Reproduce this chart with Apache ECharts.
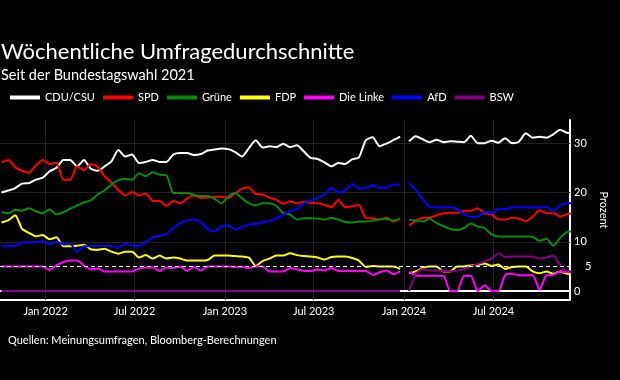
<!DOCTYPE html>
<html><head><meta charset="utf-8">
<script src="https://cdn.jsdelivr.net/npm/echarts@6/dist/echarts.min.js"></script>
<style>html,body{margin:0;padding:0;background:#000;}#c{width:620px;height:380px;}</style>
</head><body><div id="c"></div>
<script>
// ---- data ----
const partyNames = ['CDU/CSU', 'SPD', 'Grüne', 'FDP', 'Die Linke', 'AfD', 'BSW'];
const partyColors = ['#ffffff', '#ff0000', '#0a8a0a', '#ffff00', '#ff00ff', '#0000ff', '#800080'];

// bi-weekly poll averages; period A: 2021-10-03 .. 2023-12-24, gap, period B: 2024-01-11 .. 2024-12-12
const periodAStart = '2021-10-03';
const periodBStart = '2024-01-11';
const stepDays = 14;

const cduA = [20.0,20.4,20.9,21.8,21.9,22.6,23.0,24.3,25.0,26.6,26.6,25.3,26.6,24.8,24.4,25.3,26.3,28.6,27.3,27.7,26.0,26.2,26.6,26.2,26.2,27.7,28.0,28.0,27.6,27.8,28.5,28.7,28.9,28.8,28.2,27.3,29.0,30.6,29.1,29.4,29.2,29.9,29.2,29.6,28.3,27.0,26.8,26.1,25.3,26.0,25.8,26.7,27.1,30.6,31.2,29.4,29.9,30.6,31.3];
const cduB = [30.4,31.4,30.8,30.2,30.7,30.2,30.4,30.3,30.2,31.5,30.0,30.0,30.5,30.1,31.0,30.0,30.3,32.0,31.1,31.3,31.1,31.8,32.7,32.1,32.0];

const spdA = [26.1,26.6,25.1,24.4,24.0,25.5,26.6,25.8,26.0,22.6,22.6,25.3,24.5,25.8,25.2,23.3,22.0,20.5,19.4,20.1,19.4,19.8,18.3,18.3,17.3,18.3,17.8,18.8,19.4,18.9,19.0,19.1,19.2,18.9,19.8,20.8,21.0,19.7,19.6,18.9,18.5,17.7,18.2,17.8,18.1,17.9,17.8,17.5,17.0,18.5,17.0,17.2,17.5,14.8,14.8,14.5,14.9,14.1,14.8];
const spdB = [13.3,14.3,14.9,14.9,15.4,15.8,15.9,15.9,16.3,16.3,16.8,15.8,15.6,14.5,14.5,14.9,14.7,14.2,15.1,16.4,15.8,15.8,15.1,15.6,15.8];

const grueneA = [16.0,15.8,16.5,16.3,16.8,16.2,15.8,16.6,15.6,16.0,16.7,17.4,18.0,18.4,19.6,20.4,21.6,22.5,22.8,22.6,23.9,23.3,24.1,23.6,23.5,19.9,19.9,19.9,19.5,19.3,19.3,18.7,17.8,19.2,19.9,18.8,17.8,17.4,17.8,17.8,17.3,15.8,15.5,14.5,14.8,14.8,14.7,14.5,14.9,14.5,14.0,13.9,14.1,14.1,14.3,14.5,14.7,14.3,14.6];
const grueneB = [14.5,14.3,14.1,14.7,13.8,13.2,12.6,12.4,12.8,13.7,13.1,12.8,11.5,11.1,11.1,11.1,11.1,11.1,11.0,10.2,10.6,9.2,10.8,12.0,12.1];

const fdpA = [13.9,14.4,15.4,12.6,11.8,11.1,11.4,10.5,10.9,9.1,9.1,9.2,9.4,8.5,8.4,8.6,8.0,7.6,8.0,8.0,6.8,7.3,6.6,7.2,6.6,6.8,6.6,6.2,6.2,6.2,6.3,7.2,7.2,7.2,7.1,7.0,6.8,5.1,6.1,6.6,7.2,7.2,7.7,7.3,7.1,7.0,6.8,6.4,6.9,7.0,7.0,6.7,6.2,4.9,5.1,5.0,5.0,5.0,4.5];
const fdpB = [3.6,4.0,4.7,5.0,5.0,4.0,4.0,5.0,5.0,5.2,5.3,5.6,5.1,5.4,4.5,4.9,5.0,5.0,4.0,3.6,4.0,3.5,4.0,3.5,3.4];

const linkeA = [5.0,5.0,5.0,5.0,5.0,5.0,5.0,4.3,5.2,5.9,6.2,6.2,5.2,4.4,4.6,4.0,4.0,4.0,4.0,4.0,4.6,4.8,4.8,4.1,4.8,4.7,5.0,4.1,4.9,4.2,5.0,5.0,5.0,5.0,4.9,4.9,4.7,5.0,5.0,4.0,4.0,4.0,4.7,4.4,4.1,4.1,4.4,4.2,4.7,4.1,4.1,4.1,4.1,4.1,3.3,3.8,4.2,3.4,4.0];
const linkeB = [3.9,3.2,3.1,3.1,3.1,3.1,0.0,0.0,3.1,3.1,0.0,1.2,0.0,0.0,3.3,3.5,3.2,3.2,3.2,0.3,3.2,3.3,4.0,3.9,3.9];

const afdA = [9.1,9.1,9.2,9.8,9.9,9.9,10.2,9.5,10.0,9.5,9.6,8.0,9.1,9.1,9.1,9.2,9.1,8.8,9.6,9.3,9.2,10.0,10.9,11.2,11.6,12.8,13.8,14.3,14.5,14.0,12.6,12.1,13.2,13.3,12.5,13.0,13.5,13.6,14.0,14.2,14.8,15.5,16.2,16.7,17.9,18.4,18.9,19.6,20.9,20.0,20.5,21.7,20.8,20.9,21.5,20.9,21.0,21.6,21.5];
const afdB = [21.9,20.5,18.6,17.1,17.0,17.0,17.0,16.6,15.7,15.1,15.1,16.1,15.8,16.7,16.6,17.0,17.0,17.0,17.0,17.0,17.0,16.3,17.4,17.8,17.8];

const bswA = [0,0,0,0,0,0,0,0,0,0,0,0,0,0,0,0,0,0,0,0,0,0,0,0,0,0,0,0,0,0,0,0,0,0,0,0,0,0,0,0,0,0,0,0,0,0,0,0,0,0,0,0,0,0,0,0,0,0,0];
const bswB = [0,3.5,4.5,4.2,4.2,4.1,4.0,4.2,4.4,5.0,5.5,6.0,6.6,7.7,6.9,7.0,7.0,7.0,7.0,6.6,6.8,7.2,5.3,4.0,4.0];

const xTickDates = ['2022-01-01', '2022-07-01', '2023-01-01', '2023-07-01', '2024-01-01', '2024-07-01'];
const xTickLabels = ['Jan 2022', 'Jul 2022', 'Jan 2023', 'Jul 2023', 'Jan 2024', 'Jul 2024'];
const yTickValues = [0, 10, 20, 30];
const thresholdValue = 5;
const axisMinDate = '2021-09-30';
const axisMaxDate = '2024-12-04';

// ---- build ----
const DAY = 86400000;
const ts = s => Date.parse(s + 'T00:00:00Z');
const datesA = cduA.map((_, i) => ts(periodAStart) + i * stepDays * DAY);
const datesB = cduB.map((_, i) => ts(periodBStart) + i * stepDays * DAY);
const gapDate = (datesA[datesA.length - 1] + datesB[0]) / 2;
const allDates = datesA.concat([gapDate], datesB);
const join = (a, b) => a.concat([null], b);
const values = [join(cduA, cduB), join(spdA, spdB), join(grueneA, grueneB), join(fdpA, fdpB), join(linkeA, linkeB), join(afdA, afdB), join(bswA, bswB)];
const tickTs = xTickDates.map(ts);

const font = 'Lato';
const chart = echarts.init(document.getElementById('c'), null, {renderer: 'canvas'});

const series = partyNames.map((n, k) => ({
  name: n, type: 'line', showSymbol: false, symbol: 'none', smooth: 0.2,
  connectNulls: false, z: 3,
  lineStyle: {color: partyColors[k], width: 2},
  itemStyle: {color: partyColors[k]},
  data: allDates.map((d, i) => [d, values[k][i]])
}));

series.unshift({
  name: '_grid', type: 'line', data: [], z: 1, silent: true,
  markLine: {
    z: 1, silent: true, symbol: 'none', animation: false, label: {show: false},
    lineStyle: {color: '#222222', width: 1, type: 'solid'},
    data: tickTs.map(t => ({xAxis: t})).concat(
      [10, 20, 30].map(v => ({yAxis: v})),
      [{yAxis: 0, lineStyle: {color: '#ffffff', width: 2, type: 'solid'}}])
  }
});
series.push({
  name: '_threshold', type: 'line', data: [], z: 10, silent: true,
  markLine: {
    z: 10, silent: true, symbol: 'none', animation: false,
    lineStyle: {color: '#ffffff', width: 1, type: [4, 3]},
    label: {show: true, position: 'end', distance: 15, formatter: String(thresholdValue),
      color: '#ffffff', fontSize: 11, fontFamily: font},
    data: [{yAxis: thresholdValue}]
  }
});

chart.setOption({
  backgroundColor: '#000000',
  animation: false,
  title: [
    {text: 'Wöchentliche Umfragedurchschnitte', left: 1, top: 41, padding: 0,
      textStyle: {color: '#fff', fontSize: 22, fontWeight: 'normal', fontFamily: font}},
    {text: 'Seit der Bundestagswahl 2021', left: 1, top: 68, padding: 0,
      textStyle: {color: '#fff', fontSize: 14.5, fontWeight: 'normal', fontFamily: font}},
    {text: 'Quellen: Meinungsumfragen, Bloomberg-Berechnungen', left: 8, top: 335, padding: 0,
      textStyle: {color: '#fff', fontSize: 11, fontWeight: 'normal', fontFamily: font}}
  ],
  legend: {
    data: partyNames, left: 10, top: 92, padding: 0, itemGap: 8,
    icon: 'rect', itemWidth: 30, itemHeight: 4,
    textStyle: {color: '#fff', fontSize: 11, fontFamily: font}
  },
  grid: {left: 0, right: 50, top: 120, bottom: 80, containLabel: false},
  xAxis: {
    type: 'value', min: ts(axisMinDate), max: ts(axisMaxDate), scale: true,
    axisLine: {show: true, onZero: false, lineStyle: {color: '#fff', width: 2}},
    axisTick: {show: false},
    splitLine: {show: false},
    axisLabel: {
      customValues: tickTs, margin: 6, color: '#fff', fontSize: 11, fontFamily: font,
      formatter: v => { const i = tickTs.indexOf(v); return i >= 0 ? xTickLabels[i] : ''; }
    }
  },
  yAxis: {
    type: 'value', position: 'right', min: -1.8, max: 34.7,
    axisLine: {show: true, lineStyle: {color: '#fff', width: 2}},
    axisTick: {show: false},
    splitLine: {show: false},
    axisLabel: {customValues: yTickValues, margin: 4, color: '#fff', fontSize: 11, fontFamily: font},
    name: 'Prozent', nameLocation: 'middle', nameRotate: -90, nameGap: 27,
    nameTextStyle: {color: '#fff', fontSize: 11, fontFamily: font}
  },
  series: series
});
</script></body></html>
